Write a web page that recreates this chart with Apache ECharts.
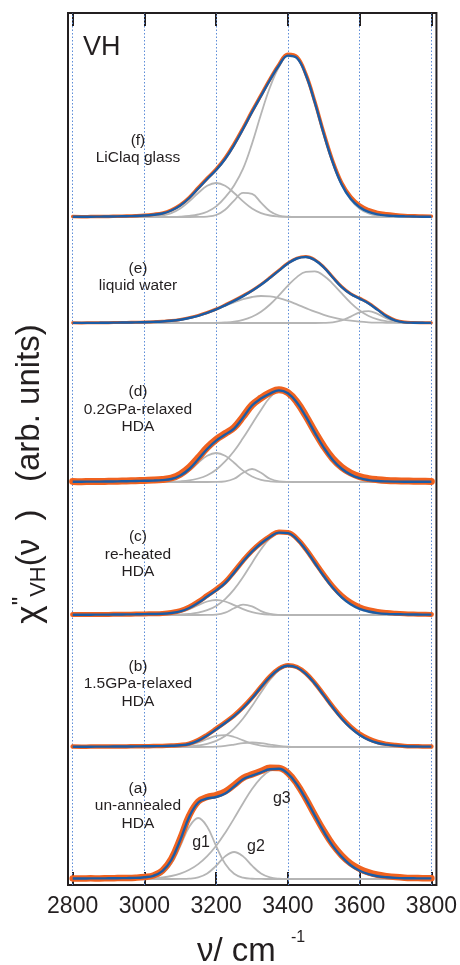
<!DOCTYPE html>
<html>
<head>
<meta charset="utf-8">
<script src="https://cdn.jsdelivr.net/npm/echarts@6/dist/echarts.min.js"></script>
<style>
  html, body { margin: 0; padding: 0; background: #ffffff; }
  #chart { width: 460px; height: 965px; }
</style>
</head>
<body>
<div id="chart"></div>
<script>
// Raman shift sampling grid (cm^-1)
const wavenumbers = [2800,2825,2850,2875,2900,2925,2950,2975,3000,3025,3050,3075,3100,3125,3150,3175,3200,3225,3250,3275,3300,3325,3350,3375,3400,3425,3450,3475,3500,3525,3550,3575,3600,3625,3650,3675,3700,3725,3750,3775,3800];
const tickValues = [2800, 3000, 3200, 3400, 3600, 3800];

// Vertical offset of each spectrum in the stack, (a) ... (f)
const panelOffsets = [6, 138, 270, 403, 562, 668];

// (a) un-annealed HDA
const measuredA = [0.6,0.4,0.7,0.5,0.8,0.9,1.0,1.3,2.0,3.5,8.4,20.2,40.5,63.5,77.5,82.0,84.0,87.5,94.0,101.0,104.6,108.0,111.2,111.0,106.0,95.2,80.4,64.0,48.3,34.3,23.6,15.5,10.2,6.6,4.3,2.9,1.9,1.3,1.0,0.8,0.7];
const fitA = [0.5,0.5,0.6,0.6,0.7,0.8,0.9,1.1,1.8,3.2,7.8,19.0,39.0,62.2,76.5,80.5,82.0,85.5,92.5,99.7,103.4,106.7,109.8,110.2,105.3,94.6,79.9,63.4,47.3,33.1,22.1,13.8,8.3,4.9,2.8,1.7,1.1,0.8,0.7,0.6,0.6];
const g1A = [0,0,0,0,0,0,0,0,0.24,1.3,5.2,15.2,32.9,52.3,61,52.3,32.9,15.2,5.2,1.3,0.24,0.03,0,0,0,0,0,0,0,0,0,0,0,0,0,0,0,0,0,0,0];
const g2A = [0,0,0,0,0,0,0,0,0,0,0,0,0.05,0.32,1.6,5.5,13.3,22.6,27,22.6,13.3,5.5,1.6,0.32,0.05,0,0,0,0,0,0,0,0,0,0,0,0,0,0,0,0];
const g3A = [0,0,0,0,0,0,0.1,0.2,0.4,0.8,1.6,3.0,5.4,9.2,14.9,22.9,33.3,46.1,60.6,75.8,89.9,101.2,108.2,109.9,105.2,94.6,79.9,63.4,47.3,33.1,21.8,13.4,7.8,4.3,2.2,1.05,0.47,0.2,0.08,0,0];

// (b) 1.5GPa-relaxed HDA
const measuredB = [0.4,0.3,0.4,0.4,0.5,0.5,0.6,0.7,0.8,0.9,1.0,1.4,2.0,3.4,6.9,12.2,18.4,24.8,31.6,39.8,49.4,60.3,70.6,78.4,81.8,80.0,73.8,64.0,52.3,40.4,29.5,20.4,13.4,8.4,5.0,3.1,1.9,1.1,0.8,0.6,0.5];
const fitB = [0.3,0.3,0.3,0.4,0.4,0.5,0.5,0.6,0.7,0.8,0.9,1.2,1.7,3.0,6.3,11.4,17.6,24.0,30.8,39.0,48.8,59.8,70.0,77.8,81.3,79.5,73.2,63.4,51.6,39.4,28.3,19.1,12.1,7.2,4.0,2.4,1.4,0.8,0.5,0.4,0.4];
const g1B = [0,0,0,0,0,0,0,0,0,0,0.04,0.18,0.67,2.0,4.5,8.0,11.1,11.9,10.0,6.6,3.3,1.3,0.41,0.1,0.02,0,0,0,0,0,0,0,0,0,0,0,0,0,0,0,0];
const g2B = [0,0,0,0,0,0,0,0,0,0,0,0,0,0,0,0.1,0.38,1.1,2.4,3.9,4.5,3.9,2.4,1.1,0.38,0.1,0,0,0,0,0,0,0,0,0,0,0,0,0,0,0];
const g3B = [0,0,0,0,0,0,0,0,0,0,0,0.1,0.26,0.64,1.5,3.1,6.1,11.0,18.4,28.5,41.0,54.6,67.2,76.6,80.9,79.4,73.2,63.4,51.6,39.4,28.3,19.1,12.1,7.2,4.0,2.1,1.05,0.49,0.21,0.09,0];

// (c) re-heated HDA
const measuredC = [0.4,0.4,0.5,0.5,0.6,0.7,0.8,0.9,1.1,1.3,1.6,2.5,4.3,7.9,13.3,19.6,25.8,33.0,43.4,54.4,64.2,72.3,78.7,83.0,82.6,76.5,66.0,53.2,40.5,28.9,19.6,12.8,8.2,5.3,3.5,2.4,1.7,1.2,0.9,0.7,0.6];
const fitC = [0.3,0.3,0.3,0.4,0.4,0.5,0.6,0.7,0.9,1.0,1.2,2.0,3.6,7.0,12.2,18.4,24.6,31.8,42.3,53.5,63.4,71.5,78.0,82.4,81.9,75.7,65.0,52.0,39.0,27.2,17.7,10.8,6.2,3.5,1.9,1.1,0.8,0.6,0.5,0.4,0.4];
const g1C = [0,0,0,0,0,0,0,0,0,0.1,0.36,1.1,2.9,5.9,9.9,13.5,15,13.5,9.9,5.9,2.9,1.1,0.36,0.1,0,0,0,0,0,0,0,0,0,0,0,0,0,0,0,0,0];
const g2C = [0,0,0,0,0,0,0,0,0,0,0,0,0,0,0,0.05,0.46,2.4,6.8,10.4,8.6,3.9,1.0,0.13,0,0,0,0,0,0,0,0,0,0,0,0,0,0,0,0,0];
const g3C = [0,0,0,0,0,0,0,0,0,0,0.06,0.17,0.44,1.05,2.3,4.8,9.1,15.9,25.6,38.0,52.1,65.8,76.7,82.5,81.9,75.7,65.0,52.0,38.6,26.7,17.2,10.3,5.7,3.0,1.4,0.64,0.27,0.1,0,0,0];

// (d) 0.2GPa-relaxed HDA
const measuredD = [0.5,0.3,0.6,0.4,0.7,0.8,1.0,1.3,1.6,1.9,2.6,4.0,7.8,14.6,24.3,34.5,42.6,48.5,54.5,65.4,77.0,84.0,89.4,92.3,89.3,80.0,66.0,50.2,35.5,23.4,14.8,9.0,5.4,3.4,2.3,1.6,1.2,1.0,0.8,0.7,0.6];
const fitD = [0.3,0.3,0.4,0.4,0.5,0.6,0.8,1.0,1.2,1.4,1.9,3.0,6.5,13.0,22.7,33.0,41.4,47.4,53.4,64.6,76.5,83.4,88.4,91.6,88.7,79.4,65.3,49.4,34.4,22.0,13.2,7.4,3.8,1.9,1.0,0.6,0.4,0.3,0.3,0.3,0.3];
const g1D = [0,0,0,0,0,0,0,0,0.04,0.19,0.7,2.2,5.5,11.4,19.2,26.2,29,26.2,19.2,11.4,5.5,2.2,0.7,0.19,0.04,0,0,0,0,0,0,0,0,0,0,0,0,0,0,0,0];
const g2D = [0,0,0,0,0,0,0,0,0,0,0,0,0,0,0,0,0.05,0.6,3.2,9.2,13,9.2,3.2,0.6,0.05,0,0,0,0,0,0,0,0,0,0,0,0,0,0,0,0];
const g3D = [0,0,0,0,0,0,0,0,0,0,0.1,0.3,0.7,1.6,3.5,6.8,12.3,20.6,31,44,58,72,84.5,90.8,88.6,79.4,65.3,49.4,34.4,22.0,12.9,7.0,3.4,1.6,0.7,0.25,0.1,0,0,0,0];

// (e) liquid water
const measuredE = [0.2,0.1,0.2,0.3,0.3,0.5,0.6,0.7,0.9,1.2,1.7,2.4,3.6,5.4,7.6,10.5,14.0,18.2,22.6,27.4,32.6,38.6,45.5,52.8,59.9,64.9,66.4,63.3,56.0,46.0,36.4,29.3,24.8,20.0,13.6,7.1,2.9,1.0,0.5,0.3,0.2];
const fitE = [0.1,0.1,0.15,0.2,0.3,0.4,0.5,0.6,0.8,1.1,1.5,2.2,3.3,5.0,7.2,10.1,13.6,17.7,22.1,26.9,32.2,38.2,45.1,52.4,59.5,64.5,66.0,62.9,55.6,45.5,35.9,28.9,24.4,19.6,13.1,6.6,2.4,0.65,0.3,0.2,0.1];
const g1E = [0,0,0,0,0,0,0.07,0.15,0.3,0.6,1.05,1.8,3.0,4.8,7.1,10.0,13.4,17.1,20.7,23.8,26.0,27.0,26.6,24.8,22.1,18.6,14.9,11.3,8.2,5.6,3.7,2.3,1.3,0.7,0.4,0.2,0.1,0,0,0,0];
const g2E = [0,0,0,0,0,0,0,0,0,0,0,0,0,0,0,0.07,0.2,0.6,1.4,3.1,6.2,11.2,18.5,27.6,37.4,45.9,51.1,51.6,47.3,39.2,29.6,20.2,12.5,7.0,3.6,1.7,0.7,0.25,0.08,0,0];
const g3E = [0,0,0,0,0,0,0,0,0,0,0,0,0,0,0,0,0,0,0,0,0,0,0,0,0,0,0,0,0.13,0.7,2.6,6.4,10.6,11.9,9.1,4.7,1.6,0.4,0.06,0,0];

// (f) LiClaq glass
const measuredF = [0.4,0.3,0.4,0.5,0.6,0.7,0.9,1.2,1.7,2.6,3.9,7.0,12.1,19.6,29.2,38.8,47.8,59.0,73.0,89.0,105.8,121.9,137.9,152.5,162.8,160.4,143.0,115.5,84.2,56.0,34.2,20.4,12.0,7.3,4.6,3.2,2.3,1.6,1.2,0.9,0.8];
const fitF = [0.3,0.3,0.3,0.4,0.5,0.6,0.8,1.0,1.5,2.3,3.5,6.5,11.5,19.0,28.5,38.0,47.0,58.0,72.0,88.0,105.0,121.0,137.0,151.5,161.4,159.0,142.0,114.5,83.0,54.6,32.4,18.3,9.8,5.1,2.6,1.5,1.0,0.7,0.5,0.3,0.3];
const g1F = [0,0,0,0,0,0,0,0,0.1,0.5,1.5,3.9,8.5,15.6,24.0,31.2,34.0,31.2,24.0,15.6,8.5,3.9,1.5,0.5,0.1,0,0,0,0,0,0,0,0,0,0,0,0,0,0,0,0];
const g2F = [0,0,0,0,0,0,0,0,0,0,0,0,0,0,0.05,0.4,2.0,7.2,16.4,24.1,23.1,14.4,5.8,1.5,0.26,0,0,0,0,0,0,0,0,0,0,0,0,0,0,0,0];
const g3F = [0,0,0,0,0,0,0,0,0,0,0,0.1,0.4,1.1,2.5,5.3,10.6,19.6,31.6,48.3,73.4,102.7,129.7,150.0,161.0,159.0,142.0,114.5,83.0,54.6,32.4,17.3,8.3,3.6,1.4,0.5,0.2,0,0,0,0];

// Sample captions
const panelLabels = ['(a)\nun-annealed\nHDA', '(b)\n1.5GPa-relaxed\nHDA', '(c)\nre-heated\nHDA',
                     '(d)\n0.2GPa-relaxed\nHDA', '(e)\nliquid water', '(f)\nLiClaq glass'];
const componentNames = ['g1', 'g2', 'g3'];

// ---- drawing ----
const INK = '#231f20';
const FONT = '"Liberation Sans", Arial, Helvetica, sans-serif';
const COLOR_MEASURED = '#f0621f';
const COLOR_FIT = '#1a5ca6';
const COLOR_PART = '#b5b5b5';
const COLOR_GRID = '#5d8dd8';

const panels = [
  { measured: measuredA, fit: fitA, parts: [g1A, g2A, g3A] },
  { measured: measuredB, fit: fitB, parts: [g1B, g2B, g3B] },
  { measured: measuredC, fit: fitC, parts: [g1C, g2C, g3C] },
  { measured: measuredD, fit: fitD, parts: [g1D, g2D, g3D] },
  { measured: measuredE, fit: fitE, parts: [g1E, g2E, g3E] },
  { measured: measuredF, fit: fitF, parts: [g1F, g2F, g3F] }
];
const measuredBandWidth = [6.5, 4.5, 5, 7, 3, 3.5];

// caption anchors in data coordinates
const panelLabelAnchors = [[2982, 79], [2982, 201], [2982, 330.7], [2982, 475.3], [2982, 608], [2982, 736]];
const componentLabelAnchors = [[3158, 42], [3311, 38], [3383, 86]];

function stacked(values, offset) {
  return wavenumbers.map((x, i) => [x, offset + values[i]]);
}

const series = [];
panels.forEach((p, k) => {
  const off = panelOffsets[k];
  p.parts.forEach((arr) => {
    series.push({
      type: 'line', data: stacked(arr, off), smooth: 0.4, showSymbol: false, silent: true, z: 2,
      lineStyle: { color: COLOR_PART, width: 1.8 }
    });
  });
  series.push({
    type: 'line', data: stacked(p.measured, off), smooth: 0.4, showSymbol: false, silent: true, z: 3,
    lineStyle: { color: COLOR_MEASURED, width: measuredBandWidth[k], join: 'round', cap: 'round' }
  });
  series.push({
    type: 'line', data: stacked(p.fit, off), smooth: 0.4, showSymbol: false, silent: true, z: 4,
    lineStyle: { color: COLOR_FIT, width: 2.4 }
  });
});

// dotted vertical guides at each major tick
series[0].markLine = {
  silent: true, z: 1, symbol: ['none', 'none'], label: { show: false },
  lineStyle: { color: COLOR_GRID, type: [1.5, 2], width: 1 },
  emphasis: { disabled: true },
  data: tickValues.map(v => ({ xAxis: v }))
};

const captionText = { show: true, position: 'inside', color: INK, fontFamily: FONT, textBorderWidth: 0, textBorderColor: 'transparent', textShadowBlur: 0 };
const captionItem = { color: 'transparent', opacity: 1 };

series.push({
  type: 'scatter', symbolSize: 0, silent: true, z: 6, itemStyle: captionItem,
  data: panelLabelAnchors.map((pt, i) => ({ value: pt, label: { formatter: panelLabels[i] } })),
  label: Object.assign({}, captionText, { fontSize: 15.5, lineHeight: 17.5, align: 'center' })
});
series.push({
  type: 'scatter', symbolSize: 0, silent: true, z: 6, itemStyle: captionItem,
  data: componentLabelAnchors.map((pt, i) => ({ value: pt, label: { formatter: componentNames[i] } })),
  label: Object.assign({}, captionText, { fontSize: 16 })
});
series.push({
  type: 'scatter', symbolSize: 0, silent: true, z: 6, itemStyle: captionItem,
  data: [{ value: [2881, 837.5], label: { formatter: 'VH' } }],
  label: Object.assign({}, captionText, { fontSize: 27 })
});

const chart = echarts.init(document.getElementById('chart'), null, { renderer: 'canvas' });
chart.setOption({
  animation: false,
  backgroundColor: '#ffffff',
  grid: { left: 68, right: 22, top: 13, bottom: 80, show: true, borderColor: INK, borderWidth: 2, backgroundColor: 'transparent' },
  xAxis: [
    {
      type: 'value', position: 'bottom', min: 2787, max: 3814,
      axisLine: { show: false },
      axisTick: { show: true, inside: true, length: 13, customValues: tickValues, lineStyle: { color: INK, width: 2 } },
      axisLabel: { show: true, customValues: tickValues, formatter: v => String(v), fontSize: 23, color: INK, fontFamily: FONT, margin: 10 },
      splitLine: { show: false }
    },
    {
      type: 'value', position: 'top', min: 2787, max: 3814,
      axisLine: { show: false },
      axisTick: { show: true, inside: true, length: 13, customValues: tickValues, lineStyle: { color: INK, width: 2 } },
      axisLabel: { show: false },
      splitLine: { show: false }
    }
  ],
  yAxis: { type: 'value', min: 0, max: 872, show: false, splitLine: { show: false } },
  graphic: [
    {
      type: 'text', x: 30, y: 474, rotation: Math.PI / 2, silent: true,
      style: {
        text: '{c|χ}{q|"}{s|VH}{r|(ν  )   (arb. units)}',
        align: 'center', verticalAlign: 'middle', fill: INK,
        rich: {
          c: { fontSize: 35, fontFamily: FONT, fill: INK, lineHeight: 40 },
          q: { fontSize: 24, fontFamily: FONT, fill: INK, verticalAlign: 'top', lineHeight: 30 },
          s: { fontSize: 22, fontFamily: FONT, fill: INK, verticalAlign: 'bottom', lineHeight: 26 },
          r: { fontSize: 33, fontFamily: FONT, fill: INK, lineHeight: 40 }
        }
      }
    },
    {
      type: 'text', x: 197, y: 952, silent: true,
      style: { text: 'ν/ cm', fontSize: 33, fontFamily: FONT, fill: INK, align: 'left', verticalAlign: 'middle' }
    },
    {
      type: 'text', x: 291, y: 938, silent: true,
      style: { text: '-1', fontSize: 16, fontFamily: FONT, fill: INK, align: 'left', verticalAlign: 'middle' }
    }
  ],
  series: series
});
</script>
</body>
</html>
